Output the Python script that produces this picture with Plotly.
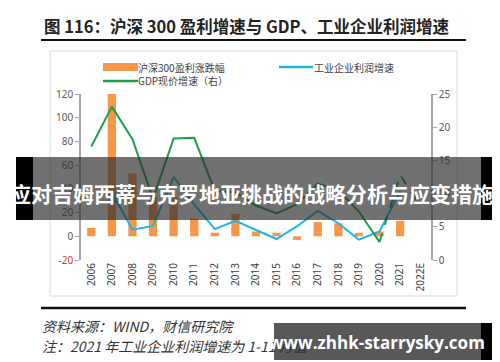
import plotly.graph_objects as go

years = ['2006', '2007', '2008', '2009', '2010', '2011', '2012', '2013', '2014',
         '2015', '2016', '2017', '2018', '2019', '2020', '2021', '2022E']
hs300_profit = [7, 120, 53, 33, 33, 15, 3, 19, 4, 3, -3, 12, 11, 3, 4, 13, None]
industrial_profit = [None, 36.7, 5.5, 8.7, 50, 27, 6, 13, 5.3, -2.3, 8.5, 21.4, 11, -2.8, 4.1, 38, None]
gdp_nominal = [17.1, 23.1, 18.2, 9.2, 18.3, 18.4, 10.4, 10.2, 8.2, 7.0, 8.4, 11.5, 10.5, 7.3, 2.7, None, None]
gdp_forecast = [None] * 14 + [2.7, 12.8, 8.0]
left_ticks = [-20, 0, 20, 40, 60, 80, 100, 120]
right_ticks = [0, 5, 10, 15, 20, 25]
series_names = ['沪深300盈利涨跌幅', '工业企业利润增速', 'GDP现价增速（右）']

W, H = 500, 362
L, R, T, B = 73, 423, 86, 252  # plot area in pixels


def px(x):
    return (x - L) / (R - L)


def py(y):
    return (B - y) / (B - T)


ORANGE = '#F79646'
BLUE = '#1FB4E6'
GREEN = '#1E9E4A'
TICKC = '#595959'
AXC = '#A6A6A6'
FONT = 'Noto Sans CJK SC, Noto Sans, sans-serif'

fig = go.Figure()
fig.add_trace(go.Bar(x=years, y=hs300_profit, name=series_names[0],
                     marker=dict(color=ORANGE, line=dict(width=0)), yaxis='y'))
fig.add_trace(go.Scatter(x=years, y=industrial_profit, name=series_names[1], mode='lines',
                         line=dict(color=BLUE, width=2), yaxis='y'))
fig.add_trace(go.Scatter(x=years, y=gdp_nominal, name=series_names[2], mode='lines',
                         line=dict(color=GREEN, width=2), yaxis='y2'))
fig.add_trace(go.Scatter(x=years, y=gdp_forecast, mode='lines',
                         line=dict(color=GREEN, width=2, dash='dash'), yaxis='y2'))

ticktext_left = ['<span style="color:#E0303A">-20</span>'] + [str(v) for v in left_ticks[1:]]

fig.update_layout(
    width=W, height=H,
    margin=dict(l=L, r=W - R, t=T, b=H - B, autoexpand=False),
    paper_bgcolor='white', plot_bgcolor='rgba(0,0,0,0)',
    font=dict(family=FONT, size=10, color=TICKC),
    bargap=0.6,
    showlegend=False,
    xaxis=dict(type='category', categoryorder='array', categoryarray=years,
               range=[-0.5, 16.5], showline=False, ticks='', tickangle=-90,
               tickfont=dict(size=10, color='#404040', family='Noto Sans, sans-serif'),
               showgrid=False, zeroline=False, automargin=False),
    xaxis2=dict(overlaying='x', anchor='free', position=py(228), type='linear',
                range=[-0.5, 16.5], tick0=-0.5, dtick=1, ticks='outside', ticklen=4,
                tickcolor=AXC, showline=True, linecolor=AXC, linewidth=1.5,
                showticklabels=False, showgrid=False, zeroline=False),
    yaxis=dict(range=[-20, 120], tickvals=left_ticks, ticktext=ticktext_left,
               showline=True, linecolor=AXC, linewidth=1.5, ticks='outside', ticklen=4,
               tickcolor=AXC, showgrid=False, zeroline=False, automargin=False,
               tickfont=dict(size=10, color=TICKC, family='Noto Sans, sans-serif')),
    yaxis2=dict(range=[0, 25], tickvals=right_ticks, overlaying='y', side='right',
                showline=True, linecolor=AXC, linewidth=1.5, ticks='outside', ticklen=4,
                tickcolor=AXC, showgrid=False, zeroline=False, automargin=False,
                tickfont=dict(size=10, color=TICKC, family='Noto Sans, sans-serif')),
)


def pline(x0, y0, x1, y1, color, width, layer='above'):
    return dict(type='line', xref='paper', yref='paper', x0=px(x0), x1=px(x1), y0=py(y0), y1=py(y1),
                line=dict(color=color, width=width), layer=layer)


def prect(x0, y0, x1, y1, fill, layer='above', line=None):
    return dict(type='rect', xref='paper', yref='paper', x0=px(x0), x1=px(x1), y0=py(y1), y1=py(y0),
                fillcolor=fill, line=line or dict(width=0), layer=layer)


shapes = [
    prect(42, 43, 449, 288, 'rgba(0,0,0,0)', layer='below', line=dict(color='#D9D9D9', width=1)),
    pline(33, 32, 458, 32, '#111111', 2),
    pline(33, 300, 458, 300, '#111111', 2.5),
    # custom legend symbols
    prect(95, 55, 130, 63, ORANGE),
    pline(271, 59, 305, 59, BLUE, 2.5),
    pline(95, 73, 130, 73, GREEN, 2.5),
    # overlay banner
    prect(25, 149, 473, 212, 'rgba(45,45,45,0.68)'),
    prect(8, 149, 25, 212, 'black'),
    prect(473, 149, 492, 212, 'black'),
    # watermark box
    prect(266, 315, 473, 352, 'rgba(70,70,70,0.9)'),
    prect(473, 315, 490, 352, 'black'),
]
fig.update_layout(shapes=shapes)


def ann(text, x, y, size, color, xanchor='left', family=FONT):
    return dict(text=text, xref='paper', yref='paper', x=px(x), y=py(y), xanchor=xanchor,
                yanchor='middle', showarrow=False, font=dict(size=size, color=color, family=family))


annotations = [
    ann('<b>图 116：沪深 300 盈利增速与 GDP、工业企业利润增速</b>', 239, 18, 16.5, '#222222', 'center'),
    ann(series_names[0], 128, 59, 10, '#404040'),
    ann(series_names[1], 304, 59, 10, '#404040'),
    ann(series_names[2], 128, 73, 10, '#404040'),
    ann('<i>资料来源：WIND，财信研究院</i>', 32, 318, 14, '#333333'),
    ann('<i>注：2021 年工业企业利润增速为 1-11 月值</i>', 32, 338, 14, '#333333'),
    ann('<b>应对吉姆西蒂与克罗地亚挑战的战略分析与应变措施</b>', 243, 185, 21, 'white', 'center'),
    ann('<b>www.zhhk-starrysky.com</b>', 369, 334, 17, 'white', 'center', 'Open Sans, sans-serif'),
]
fig.update_layout(annotations=annotations)

fig.write_html('out.html')
